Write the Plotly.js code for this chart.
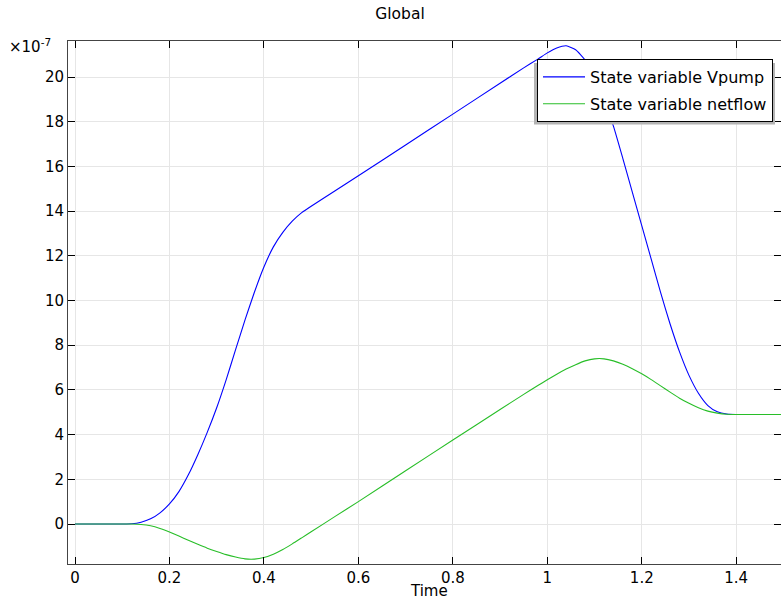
<!DOCTYPE html>
<html>
<head>
<meta charset="utf-8">
<script src="https://cdn.plot.ly/plotly-3.0.1.min.js"></script>
<style>html,body{margin:0;padding:0;background:#fff;}#chart{width:781px;height:598px;}</style>
</head>
<body>
<div id="chart"></div>
<script>
// Time values (s)
const time = [0, 0.1, 0.12, 0.14, 0.16, 0.18, 0.2, 0.22, 0.24, 0.26, 0.28, 0.3, 0.32, 0.34, 0.36, 0.38, 0.4, 0.42, 0.44, 0.46, 0.48, 0.5, 0.55, 0.6, 0.7, 0.8, 0.9, 0.95, 0.98, 1.0, 1.02, 1.04, 1.06, 1.08, 1.1, 1.12, 1.14, 1.16, 1.18, 1.2, 1.22, 1.24, 1.26, 1.28, 1.3, 1.32, 1.34, 1.36, 1.38, 1.4, 1.5];
// State variable Vpump (units of 1e-7)
const vpump = [0, 0, 0.01, 0.08, 0.23, 0.5, 0.9, 1.45, 2.2, 3.1, 4.1, 5.2, 6.45, 7.8, 9.13, 10.38, 11.5, 12.4, 13.05, 13.55, 13.93, 14.22, 14.9, 15.58, 16.96, 18.34, 19.72, 20.41, 20.8, 21.08, 21.3, 21.4, 21.22, 20.76, 20.0, 19.0, 17.8, 16.35, 14.85, 13.35, 11.85, 10.35, 8.95, 7.7, 6.65, 5.85, 5.3, 5.02, 4.92, 4.9, 4.9];
// State variable netflow (units of 1e-7)
const netflow = [0, 0, 0, -0.02, -0.08, -0.2, -0.36, -0.54, -0.73, -0.91, -1.08, -1.23, -1.37, -1.48, -1.56, -1.57, -1.5, -1.35, -1.14, -0.89, -0.62, -0.35, 0.33, 1.0, 2.38, 3.76, 5.12, 5.8, 6.2, 6.45, 6.7, 6.93, 7.13, 7.3, 7.39, 7.39, 7.3, 7.15, 6.95, 6.72, 6.46, 6.18, 5.9, 5.63, 5.4, 5.2, 5.05, 4.96, 4.91, 4.9, 4.9];
const seriesNames = ["State variable Vpump", "State variable netflow"];
const xTicks = [0, 0.2, 0.4, 0.6, 0.8, 1, 1.2, 1.4];
const yTicks = [0, 2, 4, 6, 8, 10, 12, 14, 16, 18, 20];

const FAM = "DejaVu Sans, sans-serif";
const font = {family: FAM, size: 15, color: "#000"};

const traces = [
  {x: time, y: vpump, name: seriesNames[0], legendgroup: "a", type: "scatter", mode: "lines",
   line: {color: "rgb(0,0,255)", width: 1.1, shape: "spline", smoothing: 0.5}},
  {x: time, y: netflow, name: seriesNames[1], legendgroup: "b", type: "scatter", mode: "lines",
   line: {color: "rgb(40,190,40)", width: 1.1, shape: "spline", smoothing: 0.5}}
];

const axisCommon = {
  showgrid: true, gridcolor: "#e6e6e6", gridwidth: 1,
  zeroline: false, showline: true, linecolor: "#444", linewidth: 1,
  mirror: "ticks", ticks: "inside", ticklen: 7, tickcolor: "#000", tickwidth: 1,
  tickfont: font
};

// plot area in pixels
const PL = 68, PR = 781, PT = 41, PB = 564;
const px2x = p => (p - PL) / (PR - PL);
const px2y = p => (PB - p) / (PB - PT);

const layout = {
  width: 781, height: 598,
  margin: {l: PL, r: 781 - PR, t: PT, b: 598 - PB, pad: 0},
  paper_bgcolor: "#fff", plot_bgcolor: "#fff",
  font: font,
  showlegend: true,
  title: {text: "Global", font: {family: FAM, size: 15.5, color: "#000"},
          x: 400/781, xanchor: "center", xref: "container", y: 1 - 14/598, yanchor: "middle", yref: "container"},
  xaxis: Object.assign({}, axisCommon, {
    range: [-7/472.3, 706/472.3], tickvals: xTicks, ticktext: xTicks.map(String)
  }),
  yaxis: Object.assign({}, axisCommon, {
    range: [-40/22.35, 483/22.35], tickvals: yTicks, ticktext: yTicks.map(String)
  }),
  legend: {
    x: px2x(537), y: px2y(59), xanchor: "left", yanchor: "top",
    bgcolor: "#fff", bordercolor: "#000", borderwidth: 1,
    font: {family: FAM, size: 16, color: "#000"},
    tracegroupgap: 3, itemwidth: 42
  },
  shapes: [{
    type: "rect", xref: "paper", yref: "paper", layer: "above",
    x0: px2x(534), x1: px2x(775), y0: px2y(124.5), y1: px2y(63),
    fillcolor: "#b4b4b4", line: {width: 0}
  }],
  annotations: [
    {text: "×10<sup>-7</sup>", xref: "paper", yref: "paper", x: px2x(7), y: px2y(46),
     xanchor: "left", yanchor: "middle", showarrow: false, font: font},
    {text: "Time", xref: "paper", yref: "paper", x: px2x(429), y: px2y(591),
     xanchor: "center", yanchor: "middle", showarrow: false, font: font}
  ]
};

Plotly.newPlot("chart", traces, layout, {displayModeBar: false, staticPlot: true});
</script>
</body>
</html>
